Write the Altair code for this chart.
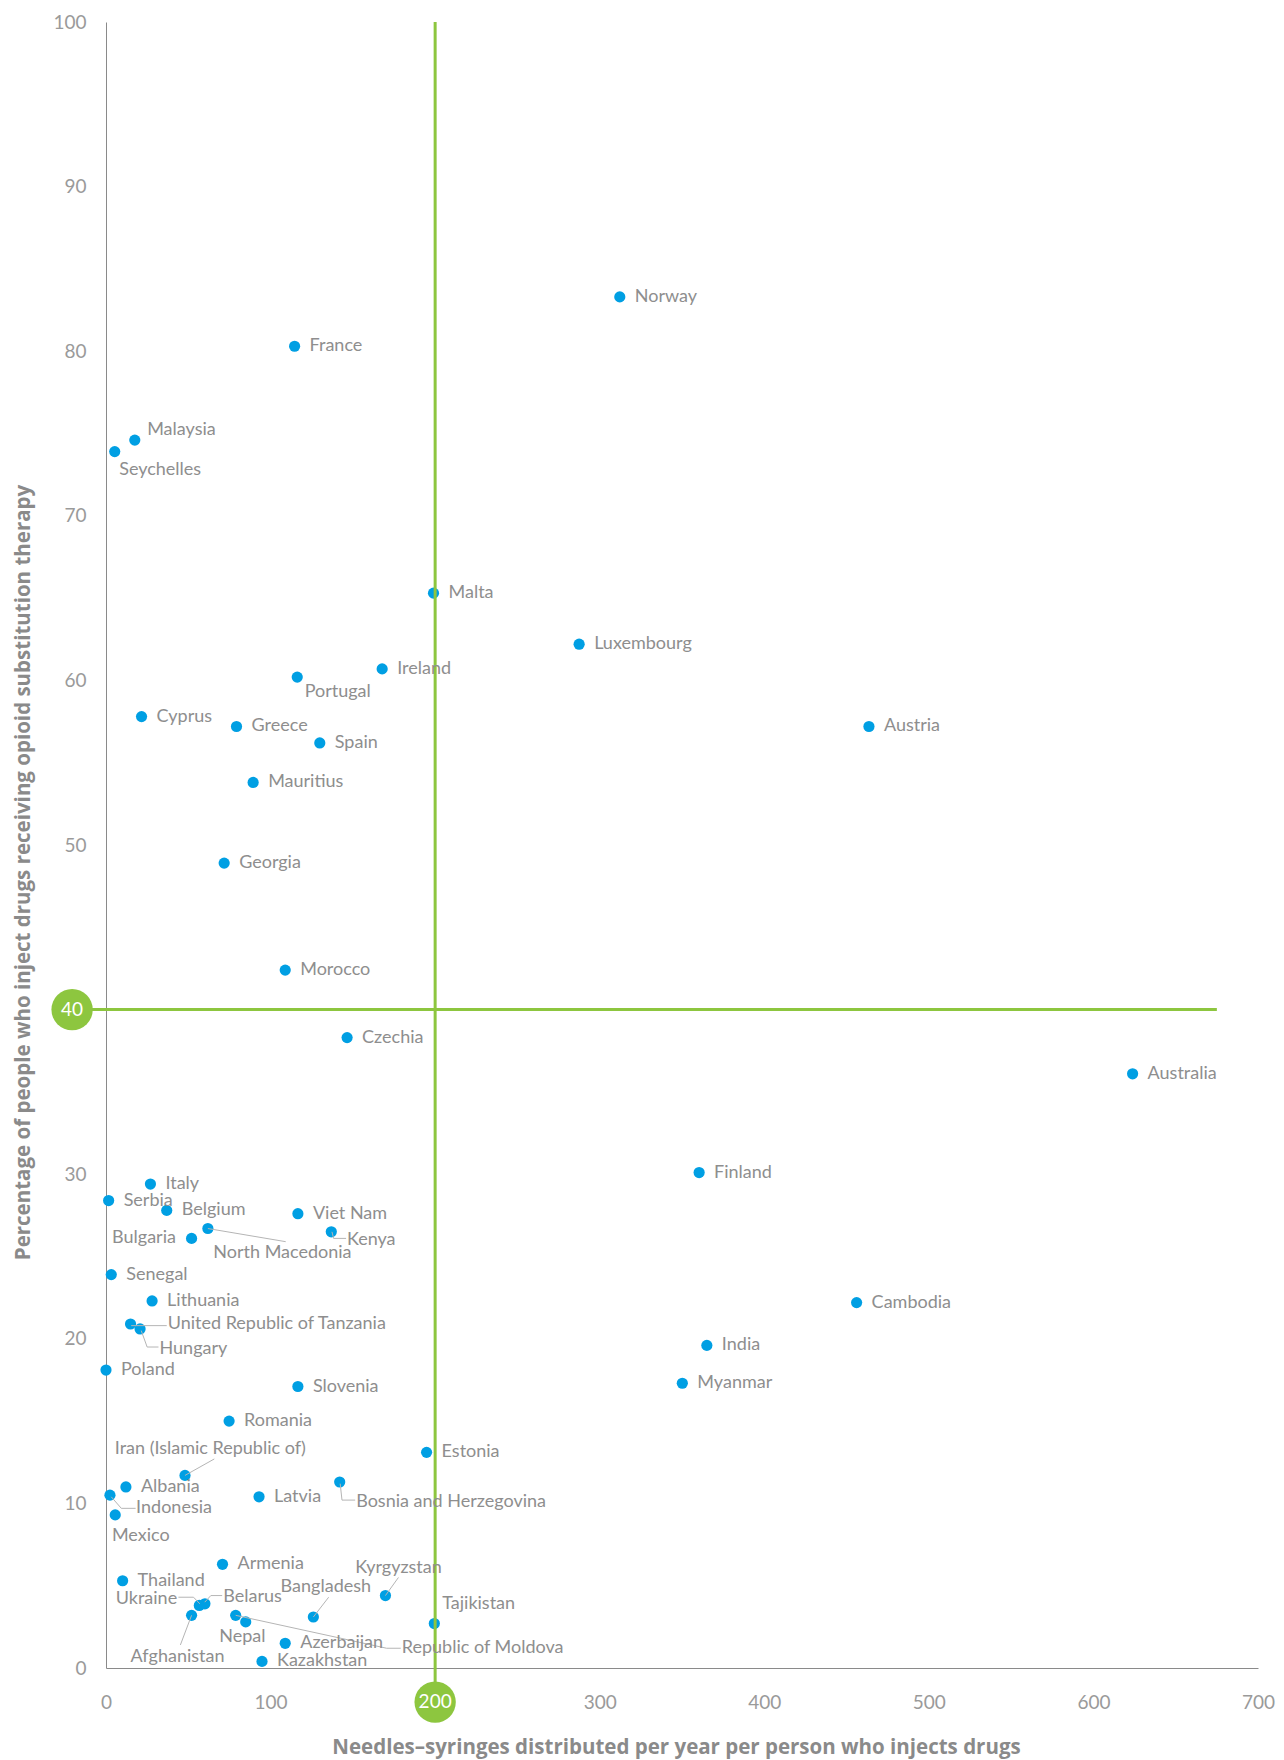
import altair as alt
import pandas as pd

# ---- data ----
countries = [
    "Norway", "France", "Malaysia", "Seychelles", "Malta", "Luxembourg", "Ireland",
    "Portugal", "Cyprus", "Greece", "Austria", "Spain", "Mauritius", "Georgia",
    "Morocco", "Czechia", "Australia", "Finland", "Italy", "Serbia", "Belgium",
    "Viet Nam", "North Macedonia", "Bulgaria", "Kenya", "Senegal", "Lithuania",
    "Cambodia", "United Republic of Tanzania", "Hungary", "India", "Poland",
    "Myanmar", "Slovenia", "Romania", "Estonia", "Iran (Islamic Republic of)",
    "Bosnia and Herzegovina", "Albania", "Indonesia", "Latvia", "Mexico", "Armenia",
    "Thailand", "Kyrgyzstan", "Belarus", "Ukraine", "Afghanistan",
    "Republic of Moldova", "Nepal", "Bangladesh", "Tajikistan", "Azerbaijan",
    "Kazakhstan",
]
needles = [
    312.2, 114.6, 17.5, 5.3, 199.0, 287.5, 167.8,
    116.2, 21.6, 79.3, 463.6, 129.9, 89.4, 71.8,
    108.9, 146.5, 623.8, 360.4, 27.0, 1.6, 36.9,
    116.6, 61.9, 52.0, 136.9, 3.2, 28.0,
    456.1, 14.9, 20.7, 365.1, 0.0,
    350.2, 116.6, 74.8, 194.8, 48.0,
    142.0, 12.1, 2.4, 93.0, 5.6, 70.8,
    10.1, 169.8, 60.1, 56.7, 52.0,
    78.8, 84.9, 126.0, 199.5, 108.9,
    94.8,
]
ost = [
    83.3, 80.3, 74.6, 73.9, 65.3, 62.2, 60.7,
    60.2, 57.8, 57.2, 57.2, 56.2, 53.8, 48.9,
    42.4, 38.3, 36.1, 30.1, 29.4, 28.4, 27.8,
    27.6, 26.7, 26.1, 26.5, 23.9, 22.3,
    22.2, 20.9, 20.6, 19.6, 18.1,
    17.3, 17.1, 15.0, 13.1, 11.7,
    11.3, 11.0, 10.5, 10.4, 9.3, 6.3,
    5.3, 4.4, 3.9, 3.8, 3.2,
    3.2, 2.8, 3.1, 2.7, 1.5,
    0.4,
]

# labels placed away from their point (data units)
moved_names = [
    "Seychelles", "Malaysia", "Portugal", "North Macedonia", "Kenya",
    "United Republic of Tanzania", "Hungary", "Iran (Islamic Republic of)",
    "Indonesia", "Mexico", "Bosnia and Herzegovina", "Ukraine", "Belarus",
    "Afghanistan", "Nepal", "Republic of Moldova", "Bangladesh", "Kyrgyzstan",
    "Tajikistan",
]
moved_x = [8.0, 25.0, 120.7, 65.2, 146.4, 37.5, 32.5, 5.3, 18.3, 3.6, 152.0, 5.9,
           71.2, 14.9, 68.8, 179.7, 106.1, 151.4, 204.3]
moved_y = [72.8, 75.2, 59.3, 25.2, 26.0, 20.9, 19.4, 13.3, 9.7, 8.0, 10.1, 4.2,
           4.3, 0.67, 1.9, 1.2, 4.9, 6.1, 3.9]

left_names = ["Bulgaria"]
left_x = [42.5]
left_y = [26.1]

# leader lines (polylines, data units)
leader_id = ["NM", "NM", "KE", "KE", "KE", "TZ", "TZ", "HU", "HU", "HU", "IR", "IR",
             "ID", "ID", "ID", "BA", "BA", "BA", "UA", "UA", "UA", "BY", "BY", "BY",
             "AF", "AF", "MD", "MD", "MD", "BD", "BD", "KG", "KG"]
leader_x = [61.9, 109.2, 137.3, 138.3, 145.9, 15.3, 36.9, 21.4, 25.0, 31.9, 48.0, 65.8,
            3.2, 9.3, 18.0, 142.3, 143.4, 151.4, 44.0, 53.2, 57.0, 70.6, 63.7, 60.0,
            52.0, 45.2, 78.8, 170.5, 179.1, 126.0, 135.3, 169.8, 177.7]
leader_y = [26.7, 25.9, 26.5, 26.1, 26.1, 20.8, 20.8, 20.5, 19.5, 19.5, 11.7, 12.7,
            10.4, 9.7, 9.7, 11.2, 10.2, 10.2, 4.3, 4.3, 3.9, 4.4, 4.4, 4.0,
            3.2, 1.4, 3.2, 1.2, 1.2, 3.1, 4.3, 4.4, 5.5]

x_ticks = [0, 100, 300, 400, 500, 600, 700]
y_ticks = [0, 10, 20, 30, 50, 60, 70, 80, 90, 100]
x_threshold = 200
y_threshold = 40
h_line_start = -20.6
h_line_end = 675

x_title = "Needles–syringes distributed per year per person who injects drugs"
y_title = "Percentage of people who inject drugs receiving opioid substitution therapy"

# ---- styling ----
W, H = 1152, 1646
FONT = "Lato"
TFONT = "Open Sans"
GREEN = "#8DC63F"
BLUE = "#009FE3"
LABEL = "#8e8e8e"
AXIS_GREY = "#8a8a8a"

xs = alt.Scale(domain=[0, 700], nice=False, zero=False)
ys = alt.Scale(domain=[0, 100], nice=False, zero=False)

x_axis = alt.Axis(values=x_ticks, grid=False, ticks=False, tickSize=0,
                  domainColor=AXIS_GREY, domainWidth=1, labelFlush=False,
                  labelColor="#9a9a9a", labelFont=FONT, labelFontSize=19,
                  labelPadding=25, labelFontWeight="normal",
                  title=x_title, titleFont=TFONT, titleFontSize=20.5,
                  titleColor="#8a8a8a", titleFontWeight="bold",
                  titleX=570, titleY=79, titleAlign="center", titleBaseline="middle")
y_axis = alt.Axis(values=y_ticks, grid=False, ticks=False, tickSize=0,
                  domainColor=AXIS_GREY, domainWidth=1, labelFlush=False,
                  labelColor="#9a9a9a", labelFont=FONT, labelFontSize=19,
                  labelPadding=20, labelBaseline="middle",
                  title=y_title, titleFont=TFONT, titleFontSize=20.5,
                  titleColor="#8a8a8a", titleFontWeight="bold",
                  titleX=-83, titleY=850, titleAngle=270,
                  titleAlign="center", titleBaseline="middle")

X = alt.X("x:Q", scale=xs, axis=x_axis)
Y = alt.Y("y:Q", scale=ys, axis=y_axis)

df = pd.DataFrame({"country": countries, "x": needles, "y": ost})
default_df = df[~df["country"].isin(moved_names + left_names)]
moved_df = pd.DataFrame({"country": moved_names, "x": moved_x, "y": moved_y})
left_df = pd.DataFrame({"country": left_names, "x": left_x, "y": left_y})
leaders = pd.DataFrame({"id": leader_id, "x": leader_x, "y": leader_y,
                        "seq": list(range(len(leader_id)))})

vline = alt.Chart(pd.DataFrame({"x": [x_threshold], "y": [100.0], "y2": [-2.07]})).mark_rule(
    color=GREEN, strokeWidth=3).encode(x=X, y=Y, y2=alt.Y2("y2:Q"))
hline = alt.Chart(pd.DataFrame({"y": [y_threshold], "x": [h_line_start],
                                "x2": [h_line_end]})).mark_rule(
    color=GREEN, strokeWidth=3).encode(y=Y, x=X, x2=alt.X2("x2:Q"))

leader_lines = alt.Chart(leaders).mark_line(color="#b5b5b5", strokeWidth=1).encode(
    x=X, y=Y, detail="id:N", order="seq:Q")

points = alt.Chart(df).mark_circle(size=125, color=BLUE, opacity=1).encode(x=X, y=Y)

lab_default = alt.Chart(default_df).mark_text(
    align="left", baseline="middle", dx=15, font=FONT, fontSize=18, color=LABEL
).encode(x=X, y=Y, text="country:N")
lab_moved = alt.Chart(moved_df).mark_text(
    align="left", baseline="middle", font=FONT, fontSize=18, color=LABEL
).encode(x=X, y=Y, text="country:N")
lab_left = alt.Chart(left_df).mark_text(
    align="right", baseline="middle", font=FONT, fontSize=18, color=LABEL
).encode(x=X, y=Y, text="country:N")

badge_x_df = pd.DataFrame({"x": [x_threshold], "y": [-2.07], "t": [str(x_threshold)]})
badge_y_df = pd.DataFrame({"x": [h_line_start], "y": [y_threshold], "t": [str(y_threshold)]})
badge_x = alt.Chart(badge_x_df).mark_circle(size=1710, color=GREEN, opacity=1).encode(
    x=X, y=Y)
badge_x_t = alt.Chart(badge_x_df).mark_text(
    color="white", font=FONT, fontSize=19, baseline="middle", align="center"
).encode(x=X, y=Y, text="t:N")
badge_y = alt.Chart(badge_y_df).mark_circle(size=1710, color=GREEN, opacity=1).encode(
    x=X, y=Y)
badge_y_t = alt.Chart(badge_y_df).mark_text(
    color="white", font=FONT, fontSize=19, baseline="middle", align="center"
).encode(x=X, y=Y, text="t:N")

chart = alt.layer(
    points, vline, hline, leader_lines, lab_default, lab_moved, lab_left,
    badge_x, badge_x_t, badge_y, badge_y_t
).properties(
    width=W, height=H,
    autosize=alt.AutoSizeParams(type="none"),
    padding={"left": 98, "top": 14, "right": 18, "bottom": 92},
).configure_view(stroke=None)

chart.save("out.html", embed_options={"renderer": "svg", "actions": False})
